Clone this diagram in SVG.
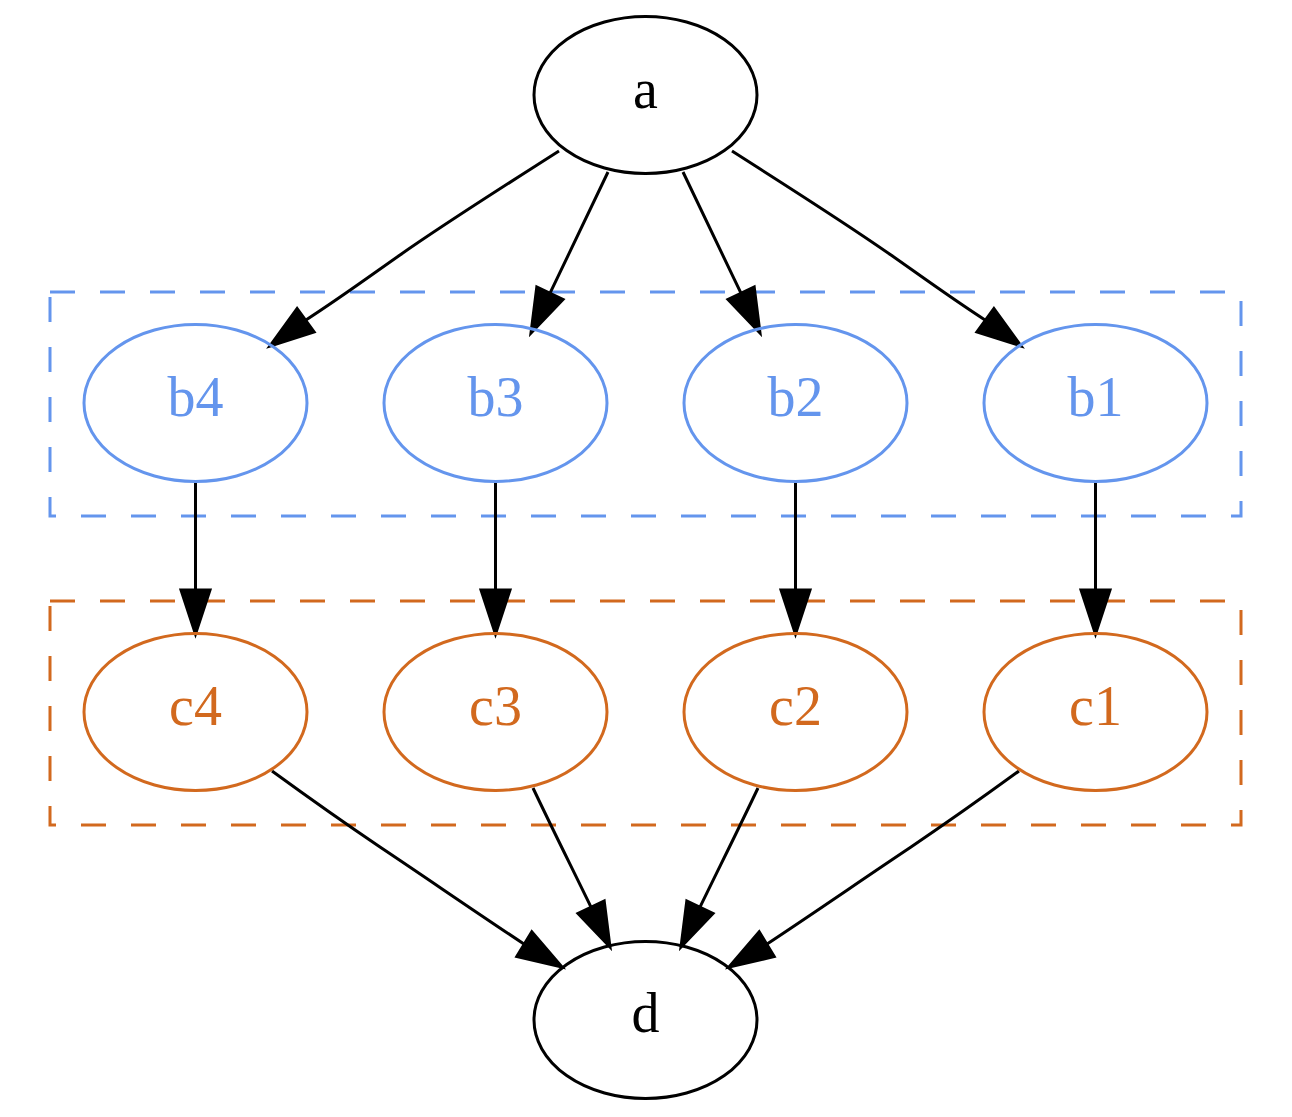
<svg xmlns="http://www.w3.org/2000/svg" width="1292" height="1117" viewBox="0 0 1292 1117">
<style>
.bg{fill:#ffffff}
.cl{fill:none;stroke-width:3;stroke-dasharray:25,25}
.clb{stroke:#6495ed}
.clc{stroke:#d2691e}
.n ellipse{fill:none;stroke-width:3}
.n text{font-family:"Liberation Serif","Times New Roman",serif;font-size:56px;text-anchor:middle}
.k ellipse{stroke:#000}
.k text{fill:#000}
.b ellipse{stroke:#6495ed}
.b text{fill:#6495ed}
.c ellipse{stroke:#d2691e}
.c text{fill:#d2691e}
.e path{fill:none;stroke:#000;stroke-width:3}
.e polygon{fill:#000;stroke:#000;stroke-width:3}
</style>
<rect class="bg" x="0" y="0" width="1292" height="1117"/>
<g id="clusters">
<rect id="cluster_b" class="cl clb" x="50" y="292" width="1191" height="224"/>
<rect id="cluster_c" class="cl clc" x="50" y="601" width="1191" height="224"/>
</g>
<g id="edges" class="e">
<g id="a_b4"><path d="M559,151 C520,176 450,220 400,255 C370,276 340,298 305.6,320.2"/><polygon points="270,346 314.1,331.9 297.1,308.5"/></g>
<g id="a_b3"><path d="M608,172 C590,210 570,252 549.9,293.3"/><polygon points="531,333 563,299.5 536.8,287.1"/></g>
<g id="a_b2"><path d="M683,172 C701,210 721,252 741.1,293.3"/><polygon points="760,333 728,299.5 754.2,287.1"/></g>
<g id="a_b1"><path d="M732,151 C771,176 841,220 891,255 C921,276 951,298 985.4,320.2"/><polygon points="1021,346 976.9,331.9 993.9,308.5"/></g>
<g id="b4_c4"><path d="M195.5,482 L195.5,590"/><polygon points="195.5,634 181,590 210,590"/></g>
<g id="b3_c3"><path d="M495.5,482 L495.5,590"/><polygon points="495.5,634 481,590 510,590"/></g>
<g id="b2_c2"><path d="M795.5,482 L795.5,590"/><polygon points="795.5,634 781,590 810,590"/></g>
<g id="b1_c1"><path d="M1095.5,482 L1095.5,590"/><polygon points="1095.5,634 1081,590 1110,590"/></g>
<g id="c4_d"><path d="M272,771 C305,795 340,820 380,847 C425,877 480,915 524.3,944.2"/><polygon points="562,967 516.8,956.6 531.8,931.8"/></g>
<g id="c3_d"><path d="M533,788 C551,826 571,866 591.1,907.3"/><polygon points="610,947 604.2,901.1 578,913.5"/></g>
<g id="c2_d"><path d="M758,788 C740,826 720,866 699.9,907.3"/><polygon points="681,947 686.8,901.1 713,913.5"/></g>
<g id="c1_d"><path d="M1019,771 C986,795 951,820 911,847 C866,877 811,915 766.7,944.2"/><polygon points="729,967 774.2,956.6 759.2,931.8"/></g>
</g>
<g id="a" class="n k"><ellipse cx="645.5" cy="95" rx="111.5" ry="78.5"/><text x="645.5" y="108">a</text></g>
<g id="b4" class="n b"><ellipse cx="195.5" cy="403" rx="111.5" ry="78.5"/><text x="195.5" y="416">b4</text></g>
<g id="b3" class="n b"><ellipse cx="495.5" cy="403" rx="111.5" ry="78.5"/><text x="495.5" y="416">b3</text></g>
<g id="b2" class="n b"><ellipse cx="795.5" cy="403" rx="111.5" ry="78.5"/><text x="795.5" y="416">b2</text></g>
<g id="b1" class="n b"><ellipse cx="1095.5" cy="403" rx="111.5" ry="78.5"/><text x="1095.5" y="416">b1</text></g>
<g id="c4" class="n c"><ellipse cx="195.5" cy="712" rx="111.5" ry="78.5"/><text x="195.5" y="725">c4</text></g>
<g id="c3" class="n c"><ellipse cx="495.5" cy="712" rx="111.5" ry="78.5"/><text x="495.5" y="725">c3</text></g>
<g id="c2" class="n c"><ellipse cx="795.5" cy="712" rx="111.5" ry="78.5"/><text x="795.5" y="725">c2</text></g>
<g id="c1" class="n c"><ellipse cx="1095.5" cy="712" rx="111.5" ry="78.5"/><text x="1095.5" y="725">c1</text></g>
<g id="d" class="n k"><ellipse cx="645.5" cy="1020" rx="111.5" ry="78.5"/><text x="645.5" y="1032">d</text></g>
</svg>
